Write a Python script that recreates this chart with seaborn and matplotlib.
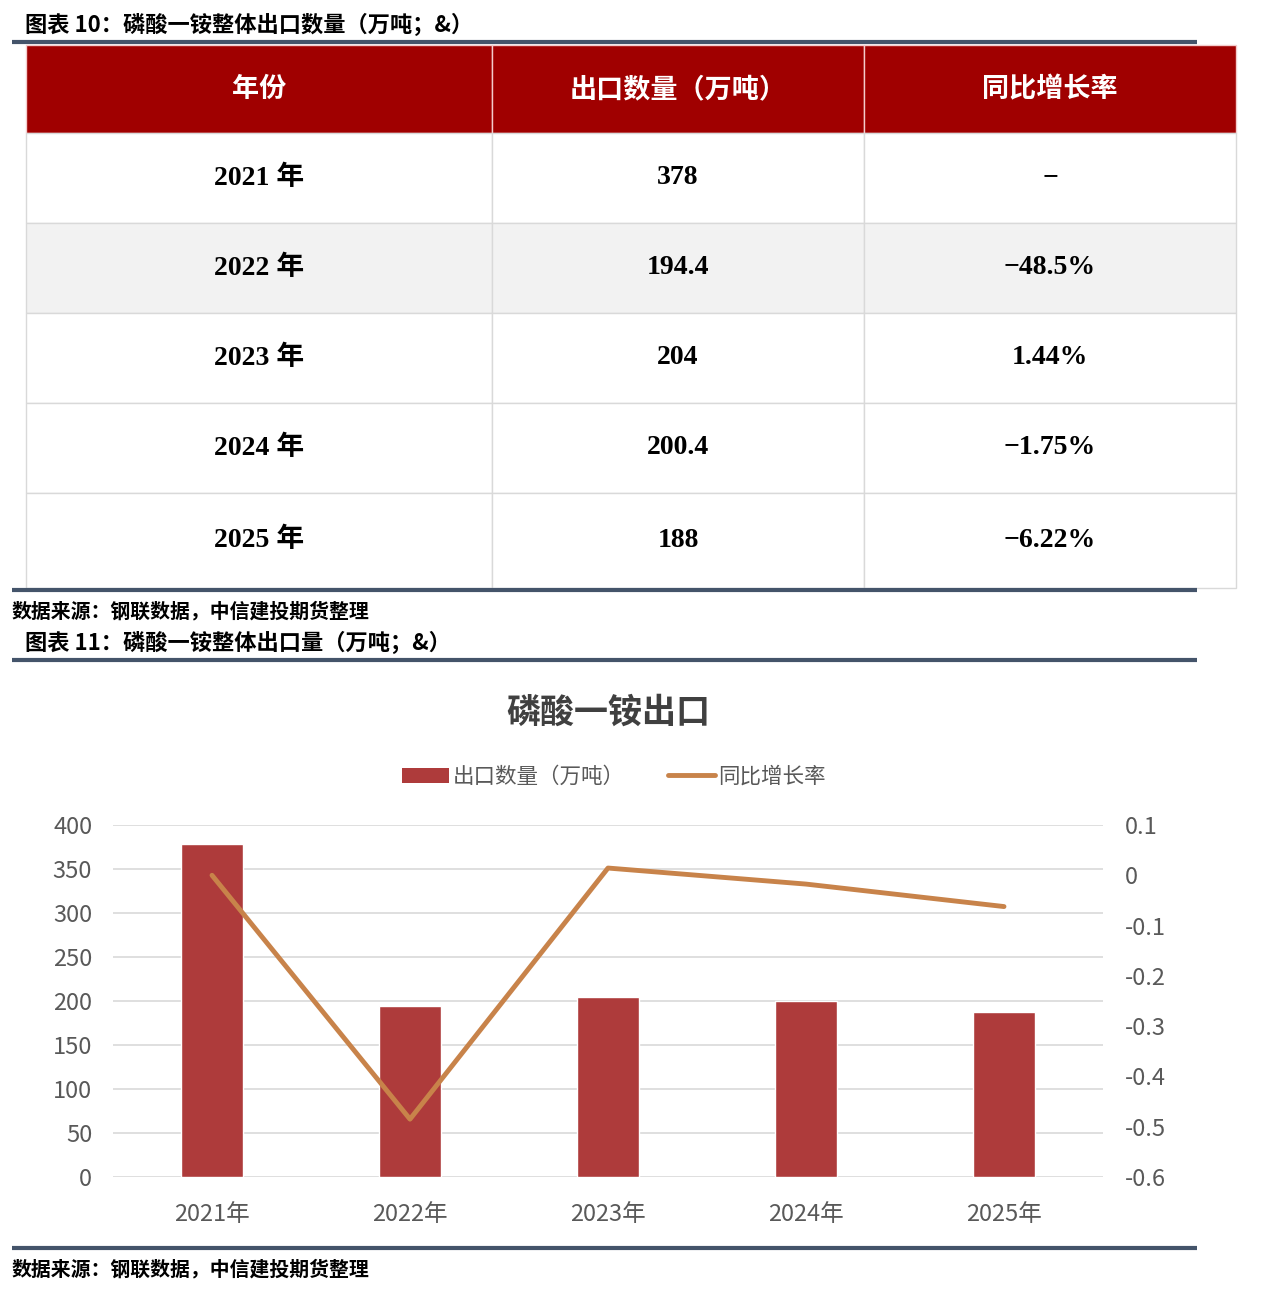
import numpy as np
import pandas as pd
import seaborn as sns
import matplotlib.pyplot as plt
from matplotlib.patches import Rectangle, Patch
from matplotlib.lines import Line2D

# ==========================================
# 数据
# ==========================================
years = ['2021年', '2022年', '2023年', '2024年', '2025年']
table_years = ['2021 年', '2022 年', '2023 年', '2024 年', '2025 年']
export_qty = [378, 194.4, 204, 200.4, 188]
export_txt = ['378', '194.4', '204', '200.4', '188']
yoy_rate = [0.0, -0.485, 0.0144, -0.0175, -0.0622]
yoy_txt = ['−', '−48.5%', '1.44%', '−1.75%', '−6.22%']
headers = ['年份', '出口数量（万吨）', '同比增长率']

left_ticks = [0, 50, 100, 150, 200, 250, 300, 350, 400]
right_ticks = [-0.6, -0.5, -0.4, -0.3, -0.2, -0.1, 0, 0.1]
right_ticklabels = ['-0.6', '-0.5', '-0.4', '-0.3', '-0.2', '-0.1', '0', '0.1']

BAR = '#AE3B3B'
LINE = '#C8834A'
NAVY = '#44546A'
RED_HEAD = '#A00000'
GRID = '#D9D9D9'
TICK = '#595959'

sns.set_theme(style='white')
plt.rcParams['font.family'] = ['Noto Sans CJK SC', 'DejaVu Sans']
plt.rcParams['axes.unicode_minus'] = False

W, H = 1280, 1304
fig = plt.figure(figsize=(W / 100, H / 100), dpi=100)

# 整张图的像素坐标底板，用于标题、表格和分隔线
bg = fig.add_axes([0, 0, 1, 1])
bg.set_xlim(0, W)
bg.set_ylim(H, 0)
bg.axis('off')

# ==========================================
# 1. 表格（图表 10）
# ==========================================
bg.text(25, 25, '图表 10：磷酸一铵整体出口数量（万吨；&）', fontsize=16,
        fontweight='bold', va='center', ha='left', color='black')
bg.plot([12, 1197], [42, 42], color=NAVY, lw=3, solid_capstyle='butt')

col_edges = [26, 492, 864, 1236]
row_edges = [45, 133, 223, 313, 403, 493, 588]
serif = ['Liberation Serif', 'Noto Sans CJK SC']

# 表头
for c in range(3):
    x0, x1 = col_edges[c], col_edges[c + 1]
    bg.add_patch(Rectangle((x0, row_edges[0]), x1 - x0, row_edges[1] - row_edges[0],
                           facecolor=RED_HEAD, edgecolor='#F4CCCC', lw=1))
    bg.text((x0 + x1) / 2, (row_edges[0] + row_edges[1]) / 2, headers[c],
            color='white', fontsize=19.5, fontweight='bold', ha='center', va='center')

# 表体
body = list(zip(table_years, export_txt, yoy_txt))
for r, row in enumerate(body):
    y0, y1 = row_edges[r + 1], row_edges[r + 2]
    fc = '#F2F2F2' if r == 1 else 'white'
    for c in range(3):
        x0, x1 = col_edges[c], col_edges[c + 1]
        bg.add_patch(Rectangle((x0, y0), x1 - x0, y1 - y0,
                               facecolor=fc, edgecolor='#D9D9D9', lw=1))
        bg.text((x0 + x1) / 2, (y0 + y1) / 2, row[c], family=serif,
                fontsize=20, fontweight='bold', ha='center', va='center', color='black')

bg.plot([12, 1197], [590, 590], color=NAVY, lw=3, solid_capstyle='butt')
bg.text(12, 611, '数据来源：钢联数据，中信建投期货整理', fontsize=14.3,
        fontweight='bold', va='center', ha='left', color='black')

# ==========================================
# 2. 柱线组合图（图表 11）
# ==========================================
bg.text(25, 643, '图表 11：磷酸一铵整体出口量（万吨；&）', fontsize=16,
        fontweight='bold', va='center', ha='left', color='black')
bg.plot([12, 1197], [660, 660], color=NAVY, lw=3, solid_capstyle='butt')
bg.text(608, 712, '磷酸一铵出口', fontsize=24.5, fontweight='bold',
        ha='center', va='center', color='#404040')

ax = fig.add_axes([113 / W, 127 / H, 990 / W, 352 / H])
df = pd.DataFrame({'year': years, 'qty': export_qty, 'yoy': yoy_rate})

sns.barplot(data=df, x='year', y='qty', color=BAR, saturation=1, width=0.31, ax=ax)
ax.set_ylim(0, 400)
ax.set_yticks(left_ticks)
ax.set_xlim(-0.5, 4.5)
ax.set_xlabel('')
ax.set_ylabel('')
ax.yaxis.grid(True, color=GRID, lw=1.2)
ax.set_axisbelow(True)
for s in ax.spines.values():
    s.set_visible(False)
ax.tick_params(axis='both', length=0, labelsize=17, labelcolor=TICK)
ax.tick_params(axis='x', pad=19)
ax.tick_params(axis='y', pad=15)

ax2 = ax.twinx()
sns.pointplot(data=df, x='year', y='yoy', color=LINE, marker='', linewidth=3.5, ax=ax2)
ax2.set_ylim(-0.6, 0.1)
ax2.set_yticks(right_ticks)
ax2.set_yticklabels(right_ticklabels)
ax2.set_xlim(-0.5, 4.5)
ax2.set_ylabel('')
ax2.set_xlabel('')
ax2.grid(False)
for s in ax2.spines.values():
    s.set_visible(False)
ax2.tick_params(axis='y', length=0, labelsize=17, labelcolor=TICK, pad=16)

handles = [Patch(facecolor=BAR, edgecolor='none'),
           Line2D([0], [0], color=LINE, lw=3.5)]
fig.legend(handles, ['出口数量（万吨）', '同比增长率'], loc='center',
           bbox_to_anchor=(614 / W, 1 - 777 / H), ncol=2, frameon=False,
           fontsize=15.5, labelcolor=TICK, handlelength=2.2, handletextpad=0.15,
           columnspacing=2.0)

bg.plot([12, 1197], [1248, 1248], color=NAVY, lw=3, solid_capstyle='butt')
bg.text(12, 1269, '数据来源：钢联数据，中信建投期货整理', fontsize=14.3,
        fontweight='bold', va='center', ha='left', color='black')

fig.savefig('out.png', dpi=100)
